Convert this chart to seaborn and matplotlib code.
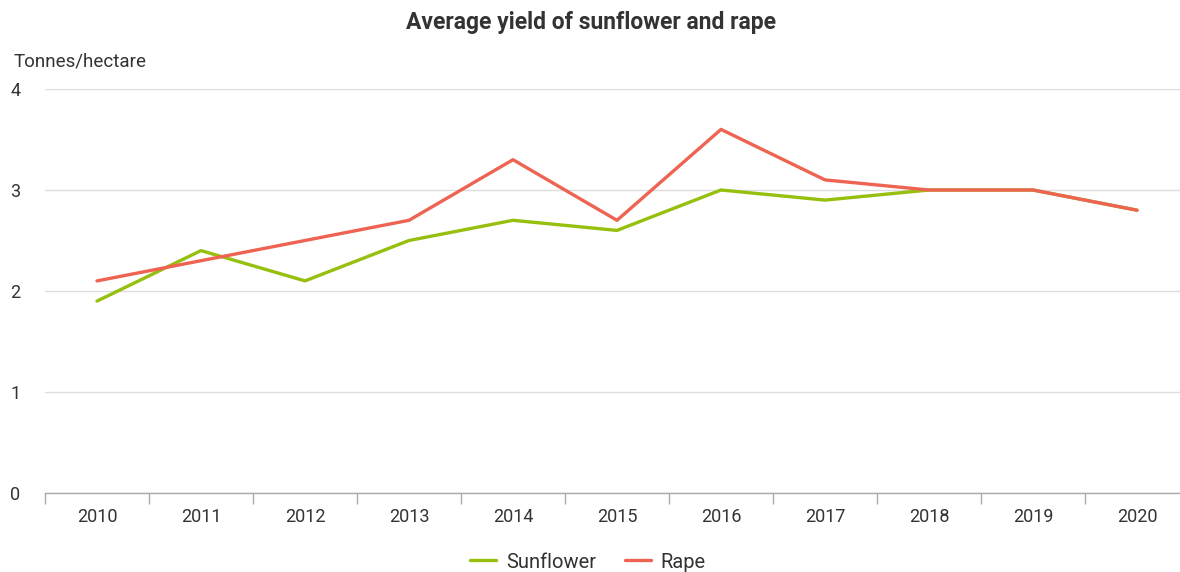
import pandas as pd
import matplotlib.pyplot as plt
import seaborn as sns
from matplotlib.lines import Line2D
from matplotlib.ticker import FixedLocator

years = ["2010", "2011", "2012", "2013", "2014", "2015", "2016", "2017", "2018", "2019", "2020"]
sunflower = [1.9, 2.4, 2.1, 2.5, 2.7, 2.6, 3.0, 2.9, 3.0, 3.0, 2.8]
rape = [2.1, 2.3, 2.5, 2.7, 3.3, 2.7, 3.6, 3.1, 3.0, 3.0, 2.8]
series_names = ["Sunflower", "Rape"]
colors = {"Sunflower": "#97bf0d", "Rape": "#ee6352"}

df = pd.concat([
    pd.DataFrame({"Year": years, "Yield": sunflower, "Series": "Sunflower"}),
    pd.DataFrame({"Year": years, "Yield": rape, "Series": "Rape"}),
]).reset_index(drop=True)
df["pos"] = df["Year"].map({y: i for i, y in enumerate(years)})

sns.set_style("white")
plt.rcParams['font.family'] = ['Roboto', 'DejaVu Sans']
text_col = "#333333"

fig = plt.figure(figsize=(11.8, 5.72), dpi=100)
W, H = 1180, 572
ax = fig.add_axes([45 / W, (H - 493) / H, (1189 - 45) / W, (493 - 89) / H])

sns.lineplot(data=df, x="pos", y="Yield", hue="Series", palette=colors,
             linewidth=2.4, ax=ax, legend=False, sort=False)

ax.set_xlim(-0.5, 10.5)
ax.set_ylim(0, 4)
ax.set_yticks([0, 1, 2, 3, 4])
ax.set_yticklabels(["0", "1", "2", "3", "4"])
ax.set_xticks(range(len(years)))
ax.set_xticklabels(years)
ax.xaxis.set_minor_locator(FixedLocator([i - 0.5 for i in range(len(years) + 1)]))
ax.tick_params(axis="x", which="major", bottom=False, length=0, pad=11, labelsize=13, labelcolor=text_col)
ax.tick_params(axis="x", which="minor", bottom=True, length=8, width=1, color="#aaaaaa", direction="out")
ax.tick_params(axis="y", length=0, pad=25, labelsize=13, labelcolor=text_col)
for lbl in ax.get_yticklabels():
    lbl.set_horizontalalignment("left")

ax.grid(axis="y", color="#dddddd", linewidth=1)
ax.set_axisbelow(True)
for s in ["top", "right", "left"]:
    ax.spines[s].set_visible(False)
ax.spines["bottom"].set_color("#aaaaaa")
ax.spines["bottom"].set_linewidth(1)
ax.set_xlabel("")
ax.set_ylabel("")

fig.text(591 / W, 1 - 22 / H, "Average yield of sunflower and rape", ha="center", va="center",
         fontsize=16.5, fontweight="bold", color=text_col)
fig.text(14 / W, 1 - 62 / H, "Tonnes/hectare", ha="left", va="center", fontsize=13.5, color=text_col)

handles = [Line2D([0], [0], color=colors[n], linewidth=2.4) for n in series_names]
fig.legend(handles, series_names, loc="center", bbox_to_anchor=(588 / W, 1 - 562 / H), ncol=2,
           frameon=False, fontsize=14.5, handlelength=1.3, columnspacing=1.4, handletextpad=0.5,
           labelcolor=text_col)

fig.savefig("out.png", dpi=100)
